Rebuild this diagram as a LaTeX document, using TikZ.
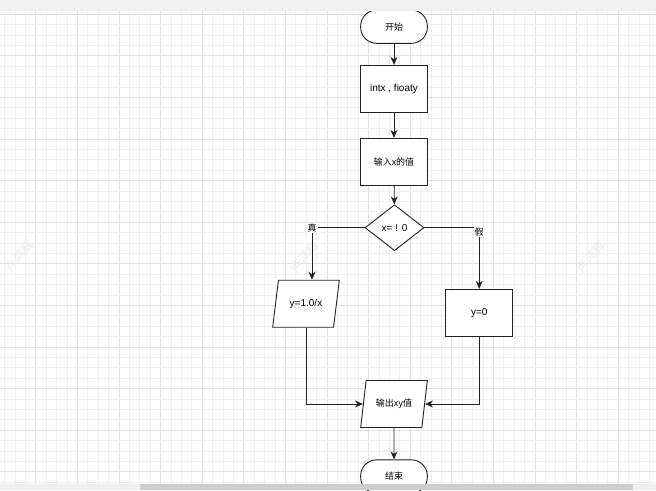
\documentclass[tikz,border=0pt]{standalone}
\usepackage{fontspec}
\setmainfont{Liberation Sans}
\newfontfamily\cjk{Noto Sans CJK SC}[Scale=0.9]
\usepackage{tikz}
\usetikzlibrary{arrows.meta,shapes.geometric,calc}
\definecolor{gridminor}{RGB}{240,240,240}
\definecolor{gridmajor}{RGB}{224,224,224}
\definecolor{barlight}{RGB}{240,240,240}
\definecolor{bardark}{RGB}{205,205,205}
\definecolor{inkgray}{RGB}{34,34,34}

\begin{document}
\begin{tikzpicture}[x=1pt,y=-1pt,
        font=\fontsize{10}{12}\selectfont,
        base/.style={draw=inkgray, line width=0.9pt, fill=white, inner sep=0pt, align=center},
        terminal/.style={base, rectangle, rounded corners=16pt, minimum width=66.7pt, minimum height=33.3pt},
        procbox/.style={base, rectangle, minimum width=67pt, minimum height=47.3pt},
        decision/.style={base, diamond, minimum width=59pt, minimum height=46pt},
        iobox/.style={base, trapezium, trapezium left angle=70, trapezium right angle=110,
            trapezium stretches=true, minimum width=66.7pt, minimum height=47pt},
        flow/.style={draw=inkgray, line width=0.9pt, -{Stealth[length=8pt,width=7pt,inset=2.5pt]}},
        branch/.style={fill=white, inner sep=1pt, font=\cjk},
        wmark/.style={text=black!8, font=\cjk\fontsize{14}{14}\selectfont, rotate=50}]
        \useasboundingbox (0,0) rectangle (656,490);
        \clip (0,0) rectangle (656,490);
        % Background grid
        \foreach \k in {0,...,63} {
            \pgfmathtruncatemacro{\m}{mod(\k,4)}
            \ifnum\m=3
                \draw[gridmajor, line width=0.8pt] ({4.5+10.4*\k},11) -- ({4.5+10.4*\k},490);
            \else
                \draw[gridminor, line width=0.8pt] ({4.5+10.4*\k},11) -- ({4.5+10.4*\k},490);
            \fi
        }
        \foreach \k in {0,...,45} {
            \pgfmathtruncatemacro{\m}{mod(\k,4)}
            \ifnum\m=0
                \draw[gridmajor, line width=0.8pt] (0,{14.1+10.4*\k}) -- (656,{14.1+10.4*\k});
            \else
                \draw[gridminor, line width=0.8pt] (0,{14.1+10.4*\k}) -- (656,{14.1+10.4*\k});
            \fi
        }
        % Watermarks
        \node[wmark] (wm1) at (20,256) {卢鸿辉};
        \node[wmark] (wm2) at (305,257) {卢鸿辉};
        \node[wmark] (wm3) at (591,257) {卢鸿辉};
        % Flow chart
        \node[terminal] (start) at (394,26.7) {{\cjk 开始}};
        \node[procbox] (decl) at (394,89) {intx , fioaty};
        \node[procbox] (input) at (394,162) {{\cjk 输入x的值}};
        \node[decision] (cond) at (394.5,227.7) {x= ! 0};
        \node[iobox] (calc) at (306,303.7) {y=1.0/x};
        \node[procbox] (zero) at (479.2,313) {y=0};
        \node[iobox] (out) at (394,404) {{\cjk 输出xy值}};
        \node[terminal] (stop) at (394,476.5) {{\cjk 结束}};
        \draw[flow] (start) -- (decl);
        \draw[flow] (decl) -- (input);
        \draw[flow] (input) -- (cond);
        \draw[flow] (cond.west) -| node[branch, pos=0.5] {真} ([xshift=6pt]calc.north);
        \draw[flow] (cond.east) -| node[branch, pos=0.5, yshift=-4pt] {假} (zero.north);
        \draw[flow] (calc.south) |- (out.west);
        \draw[flow] (zero.south) |- (out.east);
        \draw[flow] (out) -- (stop);
        % Window bars
        \fill[barlight] (0,0) rectangle (656,11);
        \fill[barlight] (0,484) rectangle (656,490);
        \fill[bardark] (140,484) rectangle (633,490);
    \end{tikzpicture}
\end{document}
